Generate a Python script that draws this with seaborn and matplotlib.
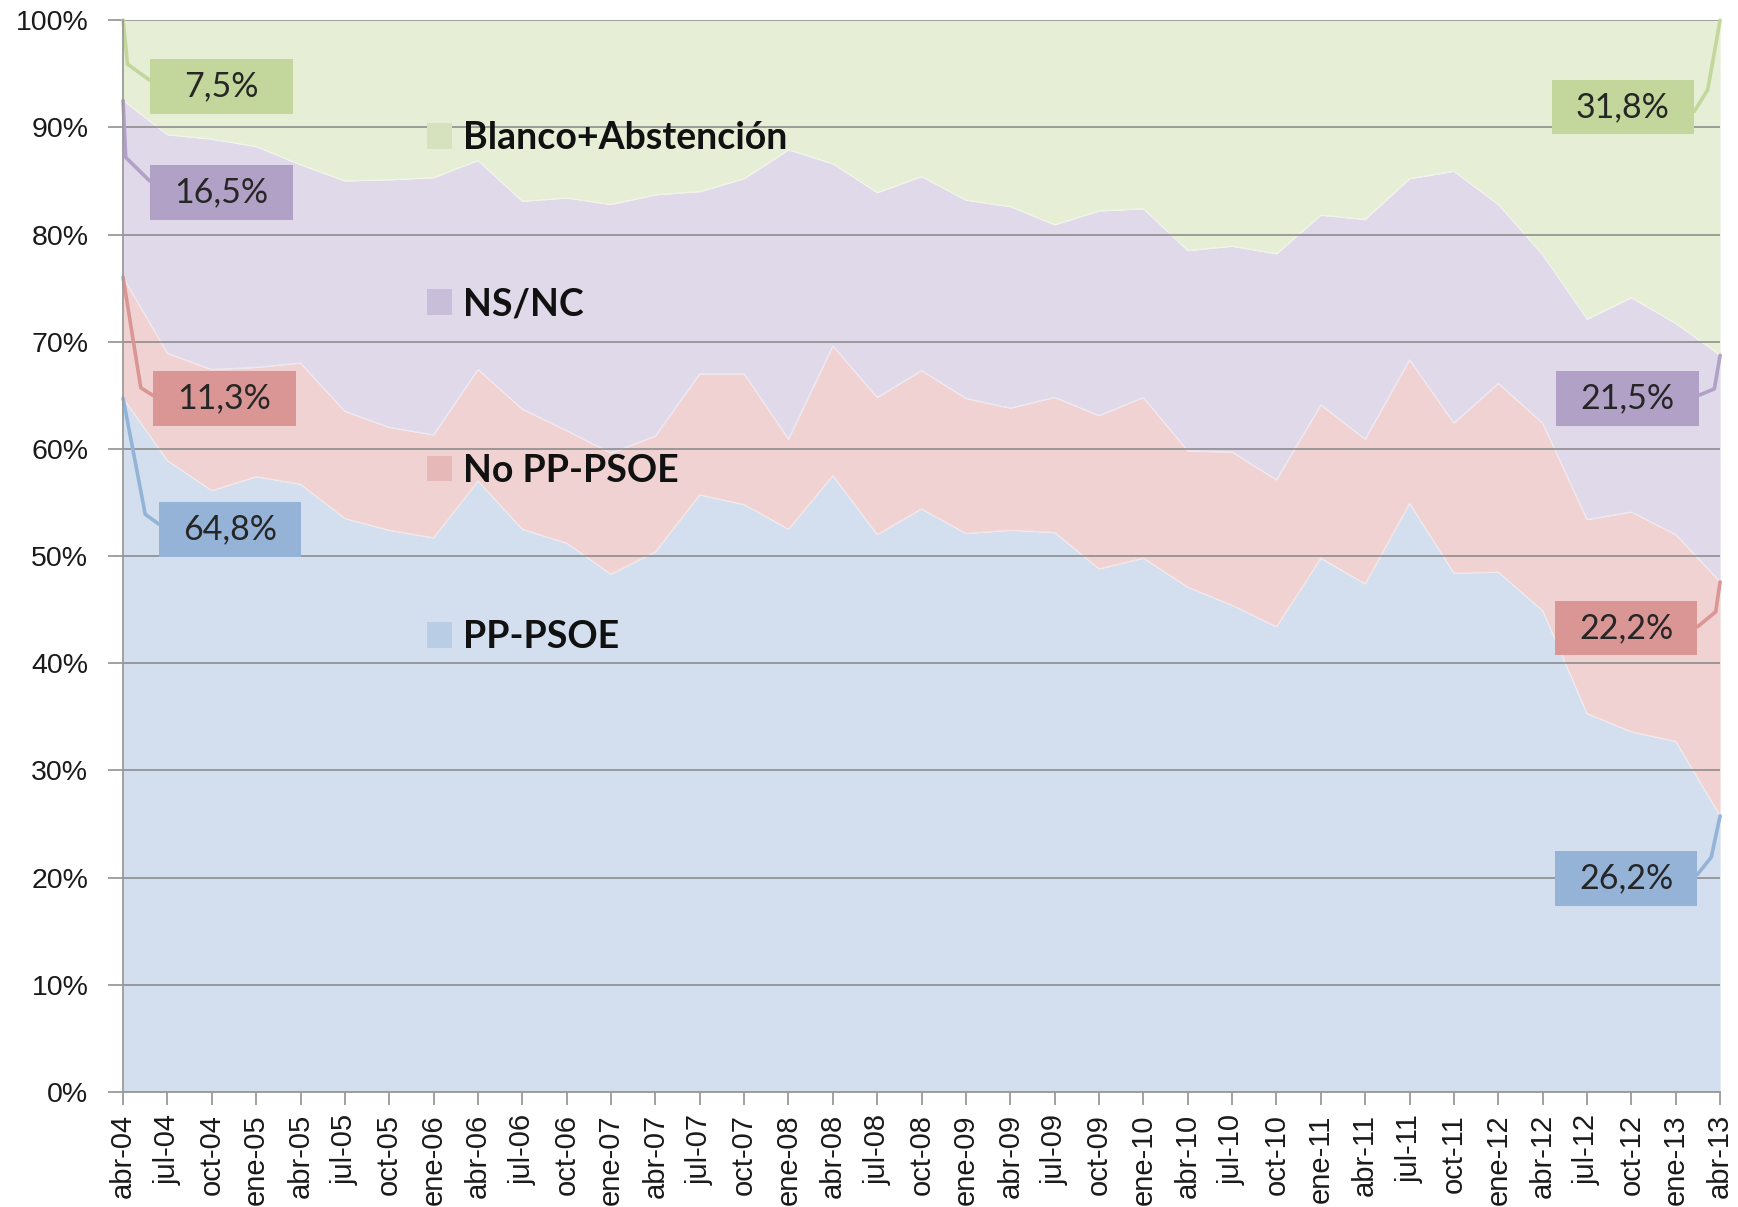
import numpy as np
import pandas as pd
import matplotlib
matplotlib.use("Agg")
import matplotlib.pyplot as plt
from matplotlib.patches import Rectangle, Patch
from matplotlib.font_manager import FontProperties
import seaborn as sns

# ---------------- data ----------------
quarters = ["abr-04", "jul-04", "oct-04", "ene-05", "abr-05", "jul-05", "oct-05", "ene-06",
            "abr-06", "jul-06", "oct-06", "ene-07", "abr-07", "jul-07", "oct-07", "ene-08",
            "abr-08", "jul-08", "oct-08", "ene-09", "abr-09", "jul-09", "oct-09", "ene-10",
            "abr-10", "jul-10", "oct-10", "ene-11", "abr-11", "jul-11", "oct-11", "ene-12",
            "abr-12", "jul-12", "oct-12", "ene-13", "abr-13"]

pp_psoe = [64.8, 58.9, 56.1, 57.4, 56.7, 53.5, 52.4, 51.7, 57.0, 52.5, 51.2, 48.3, 50.4,
           55.7, 54.8, 52.5, 57.5, 52.0, 54.4, 52.1, 52.4, 52.2, 48.8, 49.8, 47.1, 45.4,
           43.4, 49.8, 47.4, 54.9, 48.4, 48.5, 44.9, 35.3, 33.6, 32.7, 26.2]
no_pp_psoe = [11.3, 10.0, 11.3, 10.2, 11.3, 10.0, 9.6, 9.6, 10.4, 11.2, 10.5, 11.3, 10.8,
              11.3, 12.2, 8.4, 12.1, 12.8, 12.9, 12.6, 11.4, 12.6, 14.3, 15.0, 12.7, 14.3,
              13.7, 14.3, 13.5, 13.4, 14.0, 17.6, 17.5, 18.1, 20.5, 19.3, 22.2]
ns_nc = [16.5, 20.4, 21.5, 20.6, 18.5, 21.5, 23.1, 24.0, 19.5, 19.4, 21.7, 23.2, 22.5,
         17.0, 18.2, 27.0, 17.0, 19.1, 18.1, 18.5, 18.8, 16.1, 19.1, 17.6, 18.7, 19.2,
         21.1, 17.7, 20.5, 16.9, 23.5, 16.7, 15.7, 18.7, 20.0, 19.7, 21.5]
blanco_abst = [7.5, 10.7, 11.1, 11.8, 13.5, 15.0, 14.9, 14.7, 13.1, 16.9, 16.6, 17.2, 16.3,
               16.0, 14.8, 12.1, 13.4, 16.1, 14.6, 16.8, 17.4, 19.1, 17.8, 17.6, 21.5, 21.1,
               21.8, 18.2, 18.6, 14.8, 14.1, 17.2, 21.9, 27.9, 25.9, 28.3, 31.8]

series_names = ["PP-PSOE", "No PP-PSOE", "NS/NC", "Blanco+Abstención"]
y_ticks = [0, 10, 20, 30, 40, 50, 60, 70, 80, 90, 100]
y_tick_labels = ["0%", "10%", "20%", "30%", "40%", "50%", "60%", "70%", "80%", "90%", "100%"]

# ---------------- styles ----------------
fill_colors = ["#D3DFEE", "#F0D2D2", "#E0D9E9", "#E6EED6"]
legend_colors = ["#B9CDE5", "#E6B9B8", "#C9BEDA", "#D5E2BD"]
box_colors = ["#95B3D7", "#D99694", "#B2A1C7", "#C3D69B"]

sns.set_theme(style="white")
plt.rcParams["font.family"] = ["Liberation Sans", "DejaVu Sans"]

df = pd.DataFrame({"PP-PSOE": pp_psoe, "No PP-PSOE": no_pp_psoe,
                   "NS/NC": ns_nc, "Blanco+Abstención": blanco_abst}, index=quarters)
shares = df.div(df.sum(axis=1), axis=0) * 100.0
cum = shares.cumsum(axis=1)
x = np.arange(len(quarters))

fig = plt.figure(figsize=(17.38, 12.07), dpi=100)
ax = fig.add_axes([0.0708, 0.0953, 0.9189, 0.888])

ax.stackplot(x, [shares[c].values for c in series_names], colors=fill_colors,
             linewidth=0, zorder=1)
for c in series_names[:-1]:
    sns.lineplot(x=x, y=cum[c].values, ax=ax, color="white", linewidth=1.0,
                 alpha=0.4, zorder=1.5, legend=False)

ax.set_xlim(0, len(quarters) - 1)
ax.set_ylim(0, 100)
ax.set_xticks(x)
ax.set_xticklabels(quarters, rotation=90, fontsize=21, color="#1a1a1a")
ax.set_yticks(y_ticks)
ax.set_yticklabels(y_tick_labels, fontsize=20.5, color="#1a1a1a")
ax.set_xlabel("")
ax.set_ylabel("")

ax.set_axisbelow(False)
ax.yaxis.grid(True, color="#868686", linewidth=1.1)
ax.xaxis.grid(False)
for s in ["top", "right"]:
    ax.spines[s].set_visible(False)
for s in ["left", "bottom"]:
    ax.spines[s].set_color("#9a9a9a")
    ax.spines[s].set_linewidth(1.3)
    ax.spines[s].set_zorder(3)
ax.tick_params(axis="x", direction="out", length=9, width=1.3, color="#9a9a9a", pad=7,
               bottom=True)
ax.tick_params(axis="y", direction="out", length=11, width=1.3, color="#9a9a9a", pad=14,
               left=True)

# ---------------- data labels with leader lines ----------------
box_w, box_h = 3.22, 5.1
label_font = FontProperties(family="Lato", size=24.5)

def fmt(v):
    return f"{v:.1f}".replace(".", ",") + "%"

# layout: (series index, box left, box centre y, bend dx, bend y, end x, end y)
left_layout = [
    (3, 0.60, 93.8, 0.10, 95.9, 0.60, 94.4),
    (2, 0.60, 83.95, 0.06, 87.2, 0.60, 85.0),
    (1, 0.67, 64.7, 0.40, 65.7, 0.67, 65.0),
    (0, 0.80, 52.5, 0.50, 53.9, 0.80, 53.0),
]
right_layout = [
    (3, 32.20, 91.9, -0.28, 93.5, 35.42, 91.5),
    (2, 32.30, 64.7, -0.13, 65.6, 35.52, 65.0),
    (1, 32.27, 43.3, -0.10, 44.8, 35.49, 43.4),
    (0, 32.27, 19.9, -0.20, 21.9, 35.49, 20.3),
]

for layout, xi in [(left_layout, 0), (right_layout, len(quarters) - 1)]:
    for si, bx, by, bdx, bdy, ex, ey in layout:
        name = series_names[si]
        y_start = cum[name].values[xi]
        ax.plot([x[xi], x[xi] + bdx, ex], [y_start, bdy, ey], color=box_colors[si],
                linewidth=2.6, zorder=3, solid_capstyle="round", clip_on=False)
        ax.add_patch(Rectangle((bx, by - box_h / 2), box_w, box_h, facecolor=box_colors[si],
                               edgecolor="none", zorder=4))
        ax.text(bx + box_w / 2, by, fmt(df[name].values[xi]), ha="center", va="center",
                fontproperties=label_font, color="#262626", zorder=5)

# ---------------- legend ----------------
order = [3, 2, 1, 0]
handles = [Patch(facecolor=legend_colors[i], edgecolor="none") for i in order]
labels = [series_names[i] for i in order]
leg = ax.legend(handles, labels, loc="upper left", bbox_to_anchor=(6.85, 90.6),
                bbox_transform=ax.transData, frameon=False,
                prop=FontProperties(family="Lato", weight="bold", size=27),
                handlelength=0.67, handleheight=0.67, handletextpad=0.29,
                labelspacing=3.53, borderpad=0, borderaxespad=0)
for t in leg.get_texts():
    t.set_color("#111111")
leg.set_zorder(6)

fig.savefig("out.png", dpi=100)
